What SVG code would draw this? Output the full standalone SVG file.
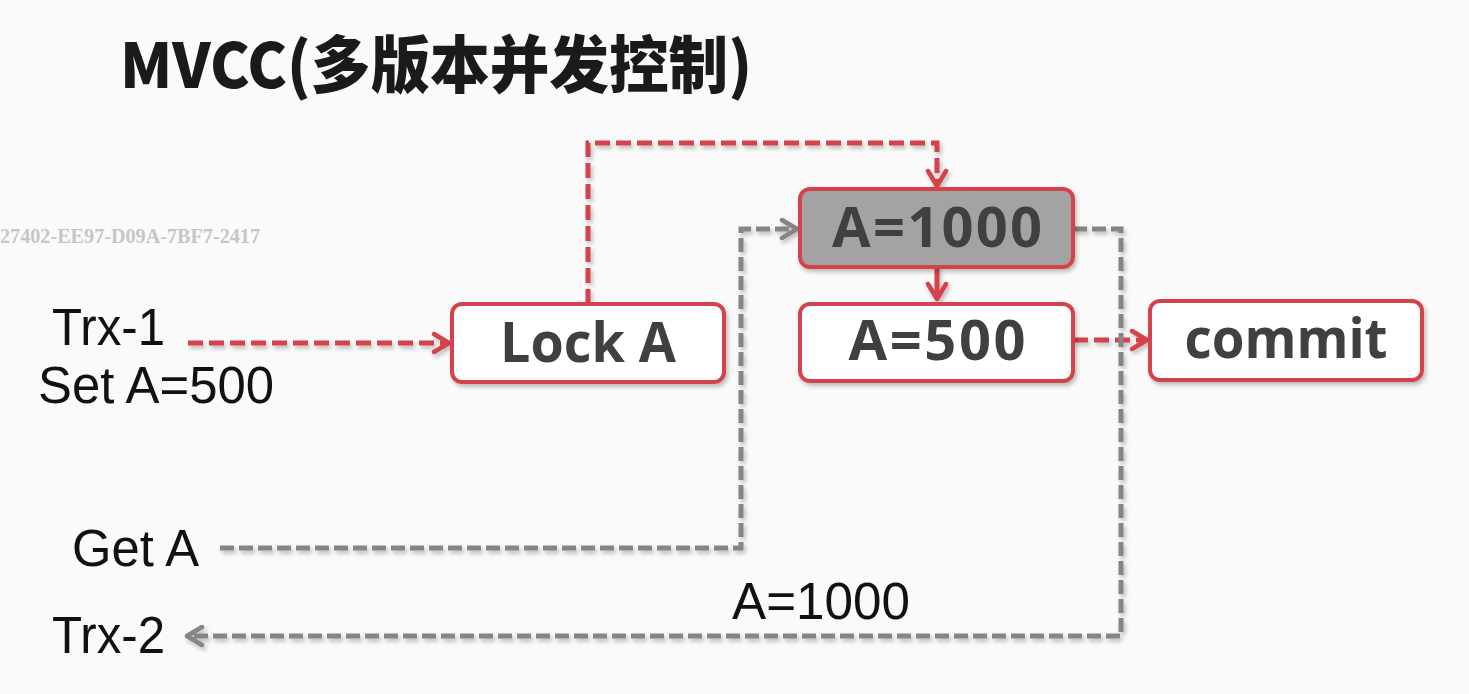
<svg xmlns="http://www.w3.org/2000/svg" width="1469" height="694" viewBox="0 0 1469 694">
<defs>
<style>
.node{fill:#ffffff;stroke:#d4434b;stroke-width:4}
.gnode{fill:#a3a3a3;stroke:#d4434b;stroke-width:4}
.nt{font-family:"Open Sans","Noto Sans",sans-serif;font-weight:bold;font-size:56px;fill:#404040;text-anchor:middle}
.lbl{font-family:"Liberation Sans","Noto Sans",sans-serif;font-size:51px;fill:#111111}
.red{fill:none;stroke:#d4434b;stroke-width:5;stroke-dasharray:15 6}
.gray{fill:none;stroke:#858585;stroke-width:5;stroke-dasharray:14 5}
</style>
<marker id="ar" viewBox="0 0 24 24" refX="20" refY="12" markerWidth="24" markerHeight="24" markerUnits="userSpaceOnUse" orient="auto">
<path d="M5,3 L20,12 L5,21" fill="none" stroke="#d4434b" stroke-width="4.5" stroke-linecap="round" stroke-linejoin="round"/>
</marker>
<marker id="ag" viewBox="0 0 24 24" refX="20" refY="12" markerWidth="24" markerHeight="24" markerUnits="userSpaceOnUse" orient="auto">
<path d="M5,3 L20,12 L5,21" fill="none" stroke="#858585" stroke-width="4.5" stroke-linecap="round" stroke-linejoin="round"/>
</marker>
<filter id="sh" x="-10%" y="-10%" width="130%" height="140%">
<feDropShadow dx="2" dy="3" stdDeviation="2" flood-color="#000" flood-opacity="0.25"/>
</filter>
</defs>
<rect width="1469" height="694" fill="#fafafa"/>
<text x="120" y="88" font-family="'Noto Sans CJK SC','Noto Sans',sans-serif" font-weight="900" font-size="62" fill="#1a1a1a" textLength="632" lengthAdjust="spacingAndGlyphs">MVCC(多版本并发控制)</text>
<text x="0" y="243" font-family="'Liberation Serif',serif" font-weight="bold" font-size="20" fill="#c6c6c6" textLength="260" lengthAdjust="spacingAndGlyphs">27402-EE97-D09A-7BF7-2417</text>
<g id="connectors" filter="url(#sh)">
<path class="red" d="M188,343 H449" marker-end="url(#ar)"/>
<path class="red" d="M588,304 V143 H937 V186" marker-end="url(#ar)"/>
<path d="M937,267 V299" fill="none" stroke="#d4434b" stroke-width="5" marker-end="url(#ar)"/>
<path class="red" d="M1073,340 H1147" marker-end="url(#ar)"/>
<path class="gray" d="M220,548 H741 V229 H797" marker-end="url(#ag)"/>
<path class="gray" d="M1073,229 H1121 V636 H187" marker-end="url(#ag)"/>
</g>
<g id="lockA" filter="url(#sh)">
<rect class="node" x="452" y="304" width="272" height="78" rx="10"/>
<text class="nt" x="588" y="362" textLength="176" lengthAdjust="spacingAndGlyphs">Lock A</text>
</g>
<g id="a1000" filter="url(#sh)">
<rect class="gnode" x="800" y="189" width="273" height="78" rx="10"/>
<text class="nt" x="937" y="247" textLength="210" lengthAdjust="spacing">A=1000</text>
</g>
<g id="a500" filter="url(#sh)">
<rect class="node" x="800" y="304" width="273" height="77" rx="10"/>
<text class="nt" x="937" y="360" textLength="177" lengthAdjust="spacing">A=500</text>
</g>
<g id="commit" filter="url(#sh)">
<rect class="node" x="1150" y="301" width="272" height="79" rx="10"/>
<text class="nt" x="1286" y="358" textLength="203" lengthAdjust="spacingAndGlyphs">commit</text>
</g>
<g id="labels">
<text class="lbl" x="52" y="345" textLength="113" lengthAdjust="spacingAndGlyphs">Trx-1</text>
<text class="lbl" x="38" y="403" textLength="236" lengthAdjust="spacingAndGlyphs">Set A=500</text>
<text class="lbl" x="72" y="566" textLength="127" lengthAdjust="spacingAndGlyphs">Get A</text>
<text class="lbl" x="52" y="653" textLength="113" lengthAdjust="spacingAndGlyphs">Trx-2</text>
<text class="lbl" x="732" y="619" textLength="178" lengthAdjust="spacingAndGlyphs">A=1000</text>
</g>
</svg>
